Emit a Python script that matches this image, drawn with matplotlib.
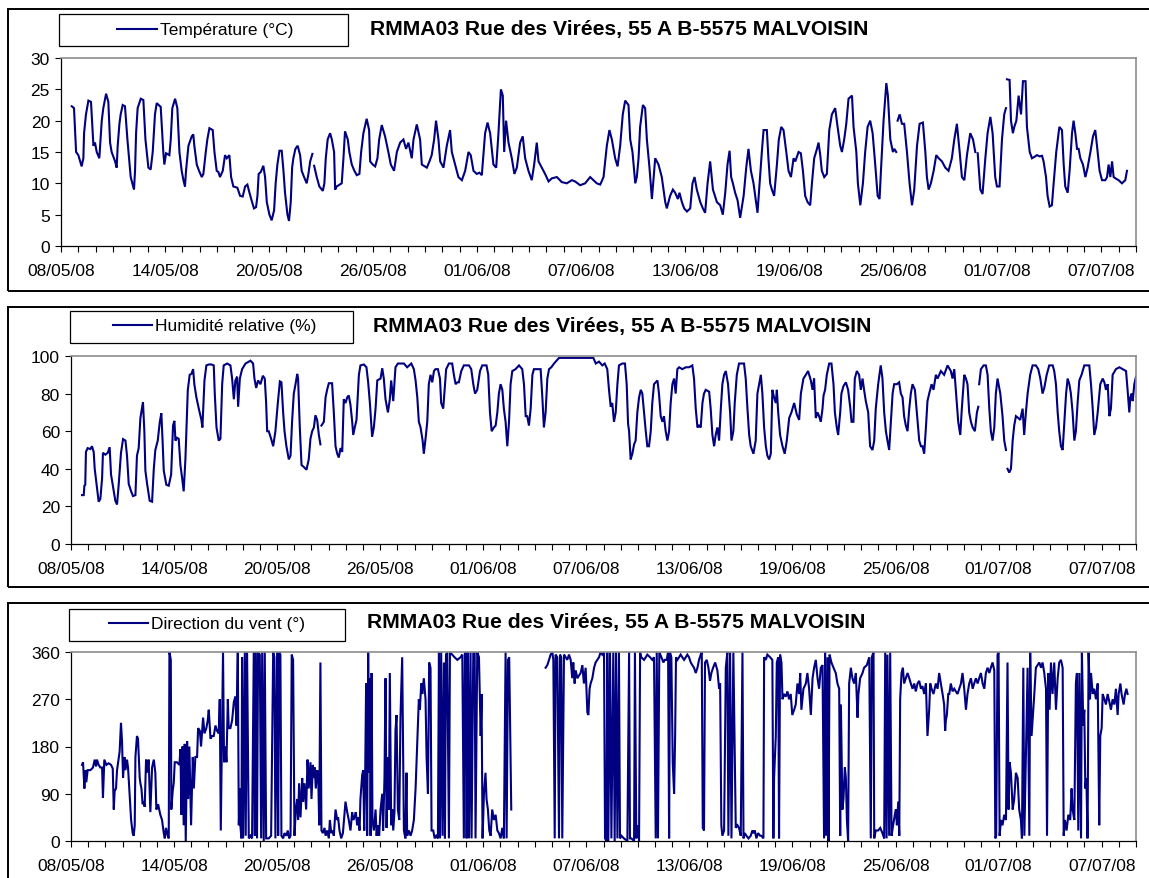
import numpy as np
import matplotlib
matplotlib.use("Agg")
import matplotlib.pyplot as plt
import matplotlib.dates as mdates
from matplotlib.patches import Rectangle
from matplotlib.lines import Line2D
from datetime import datetime

plt.rcParams['font.family'] = ['Liberation Sans', 'DejaVu Sans']

NAN = np.nan

# ---------------------------------------------------------------- data
# time stamps are days elapsed since 08/05/2008 00:00
station_title = "RMMA03 Rue des Virées, 55 A B-5575 MALVOISIN"
start_date = datetime(2008, 5, 8)
end_date = datetime(2008, 7, 9)

temp_label = "Température (°C)"
temp_day = [
    0.62, 0.75, 0.87, 1.00, 1.19, 1.29, 1.33, 1.44, 1.58, 1.73, 1.87, 1.96, 2.06, 2.21, 2.35, 2.44,
    2.60, 2.73, 2.83, 2.92, 3.12, 3.21, 3.27, 3.37, 3.44, 3.56, 3.69, 3.83, 4.02, 4.21, 4.27, 4.33,
    4.42, 4.60, 4.75, 4.87, 5.04, 5.17, 5.29, 5.42, 5.52, 5.75, 5.90, 5.96, 6.06, 6.25, 6.33, 6.42,
    6.58, 6.71, 6.83, 6.96, 7.06, 7.15, 7.21, 7.35, 7.54, 7.63, 7.69, 7.83, 7.96, 8.12, 8.21, 8.35,
    8.44, 8.56, 8.75, 8.85, 8.98, 9.08, 9.17, 9.33, 9.46, 9.56, 9.71, 9.81, 9.94, 10.17, 10.33, 10.48,
    10.62, 10.75, 10.87, 11.00, 11.13, 11.25, 11.33, 11.40, 11.52, 11.67, 11.77, 11.87, 12.02, 12.15,
    12.29, 12.38, 12.48, 12.60, 12.73, 12.83, 12.92, 13.06, 13.15, 13.25, 13.33, 13.40, 13.52, 13.65,
    13.79, 13.88, 14.02, 14.17, 14.27, 14.37, 14.50, 14.55, 14.60, 14.75, 14.90, 15.10, 15.19, 15.27,
    15.38, 15.52, 15.62, 15.75, 15.81, 15.90, 16.19, 16.29, 16.38, 16.54, 16.63, 16.77, 16.92, 17.06,
    17.21, 17.31, 17.44, 17.63, 17.77, 17.83, 17.98, 18.12, 18.25, 18.35, 18.50, 18.69, 18.88, 19.02,
    19.21, 19.37, 19.56, 19.75, 19.90, 20.04, 20.23, 20.33, 20.52, 20.71, 20.81, 21.10, 21.25, 21.38,
    21.52, 21.63, 21.77, 21.87, 22.06, 22.25, 22.44, 22.54, 22.73, 22.92, 23.12, 23.31, 23.50, 23.63,
    23.79, 23.98, 24.13, 24.27, 24.46, 24.60, 24.75, 24.94, 25.10, 25.23, 25.37, 25.48, 25.56, 25.67,
    25.81, 26.00, 26.15, 26.29, 26.48, 26.63, 26.77, 26.96, 27.15, 27.29, 27.44, 27.54, 27.73, 27.92,
    28.12, 28.31, 28.60, 28.88, 29.17, 29.46, 29.65, 29.94, 30.23, 30.52, 30.71, 30.90, 31.10, 31.29,
    31.48, 31.63, 31.77, 31.96, 32.10, 32.25, 32.40, 32.54, 32.73, 32.83, 32.96, 33.12, 33.21, 33.31,
    33.40, 33.56, 33.69, 33.79, 33.94, 34.08, 34.27, 34.46, 34.65, 34.85, 34.94, 35.13, 35.29, 35.42,
    35.58, 35.67, 35.81, 35.94, 36.10, 36.29, 36.42, 36.54, 36.67, 36.87, 37.02, 37.15, 37.29, 37.44,
    37.60, 37.83, 38.02, 38.17, 38.31, 38.44, 38.56, 38.65, 38.75, 38.88, 39.02, 39.17, 39.37, 39.52,
    39.65, 39.79, 39.94, 40.04, 40.17, 40.29, 40.42, 40.52, 40.71, 40.80, 40.90, 41.00, 41.13, 41.29,
    41.40, 41.54, 41.67, 41.83, 41.96, 42.10, 42.25, 42.35, 42.54, 42.67, 42.79, 42.92, 43.06, 43.21,
    43.31, 43.44, 43.60, 43.69, 43.79, 43.88, 44.02, 44.17, 44.31, 44.46, 44.65, 44.79, 44.94, 45.04,
    45.17, 45.29, 45.42, 45.62, 45.71, 45.87, 45.96, 46.10, 46.25, 46.38, 46.52, 46.67, 46.81, 46.96,
    47.10, 47.21, 47.29, 47.44, 47.60, 47.69, 47.83, 47.98, 48.06, 48.17, 48.21, 48.25, 48.37, 48.50,
    48.63, 48.79, 48.94, 49.08, 49.21, 49.37, 49.52, 49.71, 49.85, 49.94, 50.04, 50.17, 50.33, 50.48,
    50.62, 50.81, 51.00, 51.19, 51.38, 51.52, 51.67, 51.83, 51.96, 52.10, 52.25, 52.44, 52.60, 52.73,
    52.80, 52.87, 53.02, 53.15, 53.31, 53.44, 53.60, 53.73, 53.88, 53.98, 54.13, 54.27, 54.40, 54.50,
    54.53, 54.56, 54.71, 54.79, 54.90, 54.98, 55.10, 55.23, 55.37, 55.48, 55.63, 55.71, 55.87, 56.00,
    56.13, 56.29, 56.44, 56.58, 56.67, 56.81, 56.90, 57.02, 57.15, 57.25, 57.40, 57.58, 57.73, 57.83,
    57.92, 58.06, 58.17, 58.31, 58.40, 58.50, 58.60, 58.69, 58.79, 58.94, 59.08, 59.21, 59.37, 59.52,
    59.65, 59.75, 59.90, 60.04, 60.23, 60.33, 60.42, 60.52, 60.62, 60.71, 60.87, 61.00, 61.19, 61.38,
    61.48,
]
temp_val = [
    22.3, 22.0, 15.0, 14.5, 12.7, 14.0, 18.0, 21.0, 23.2, 23.0, 16.0, 16.5, 15.0, 14.0, 20.0, 22.0,
    24.3, 23.0, 16.5, 15.0, 13.5, 12.5, 16.0, 19.5, 21.0, 22.5, 22.3, 17.0, 11.0, 9.0, 12.0, 18.0,
    22.0, 23.5, 23.3, 17.0, 12.5, 12.2, 15.0, 21.0, 22.8, 22.2, 15.0, 13.0, 14.8, 14.5, 17.0, 22.0,
    23.5, 22.0, 15.0, 12.0, 10.5, 9.5, 12.0, 16.0, 17.5, 17.8, 16.0, 13.0, 12.0, 11.0, 11.5, 15.0,
    17.0, 18.8, 18.5, 15.0, 12.0, 11.8, 11.0, 12.0, 14.5, 14.0, 14.5, 11.0, 9.5, 9.3, 8.0, 7.9,
    9.5, 9.8, 8.5, 7.2, 6.0, 6.2, 8.0, 11.5, 11.8, 12.8, 11.0, 7.0, 5.0, 4.1,
    5.7, 10.0, 13.0, 15.2, 15.2, 12.0, 8.5, 5.0, 4.0, 7.0, 12.5, 14.0, 15.5, 16.0,
    14.5, 12.0, 11.0, 10.0, 11.5, 13.5, 14.7, NAN, 12.8, 11.0, 9.5, 8.8, 10.0, 14.0,
    17.0, 18.0, 17.0, 15.0, 9.0, 9.5, 10.0, 14.0, 18.3, 17.0, 15.0, 13.0, 12.0, 11.3,
    11.5, 15.0, 18.0, 20.3, 18.5, 13.5, 13.0, 12.7, 14.0, 17.0, 19.3, 17.5, 15.0, 13.0,
    12.0, 15.0, 16.5, 17.0, 15.5, 16.5, 14.0, 17.0, 19.4, 17.0, 13.0, 12.5, 13.5, 14.5,
    17.0, 20.0, 17.0, 13.5, 12.5, 16.0, 18.5, 15.0, 13.0, 11.0, 10.5, 12.0, 15.0, 14.5,
    12.0, 11.5, 11.7, 11.3, 18.0, 19.7, 18.0, 13.0, 12.5, 18.0, 25.0, 24.0, 15.0, 20.0,
    16.5, 14.0, 11.5, 12.5, 16.5, 17.5, 14.0, 12.0, 10.5, 13.0, 16.5, 13.5, 12.5, 11.5,
    10.3, 10.8, 11.0, 10.2, 10.0, 10.5, 10.3, 9.7, 10.0, 11.0, 10.5, 10.0, 9.8, 11.0,
    16.0, 18.5, 17.0, 14.0, 12.7, 16.0, 21.0, 23.2, 22.5, 17.0, 15.0, 10.0, 11.0, 14.0,
    19.0, 22.5, 22.0, 17.0, 12.5, 7.5, 14.0, 13.0, 11.0, 7.0, 6.0, 8.0, 9.0, 8.5,
    7.5, 8.5, 7.0, 6.0, 5.5, 6.0, 10.0, 11.0, 9.0, 7.0, 6.0, 5.3, 10.0, 13.5,
    9.0, 7.0, 6.5, 5.0, 8.5, 13.0, 15.2, 11.0, 10.0, 8.5, 7.3, 4.5, 8.0, 12.5,
    15.5, 12.0, 10.0, 8.0, 5.3, 10.0, 15.0, 18.5, 18.5, 14.0, 10.0, 9.0, 8.0, 13.0,
    17.0, 19.0, 18.5, 15.0, 12.0, 11.0, 14.0, 13.5, 15.0, 14.8, 12.0, 8.0, 7.0, 6.5,
    10.0, 14.0, 15.5, 16.5, 14.5, 12.0, 11.0, 11.5, 18.5, 21.0, 22.0, 19.0, 16.0, 15.0,
    17.0, 19.5, 23.5, 24.0, 19.0, 15.0, 10.0, 6.5, 10.0, 15.0, 19.0, 20.0, 18.0, 13.0,
    8.0, 7.5, 12.0, 20.0, 26.0, 24.0, 17.0, 15.0, 15.5, 15.0, NAN, 20.0, 21.0, 19.5,
    19.5, 15.0, 10.0, 6.5, 9.0, 16.0, 19.5, 19.7, 15.0, 11.0, 9.0, 10.0, 12.0, 14.5,
    14.0, 13.5, 12.5, 12.0, 14.0, 17.0, 19.5, 15.0, 11.0, 10.5, 14.5, 18.0, 17.0, 15.0,
    NAN, 14.8, 9.0, 8.3, 14.0, 18.0, 20.6, 18.0, 11.0, 9.5, 9.5, 17.0, 21.0, 22.0,
    NAN, 26.6, 26.5, 20.0, 18.0, 19.0, 20.0, 24.0, 21.0, 26.3, 26.3, 19.0, 15.0, 14.0,
    14.2, 14.5, 14.3, 14.4, 13.5, 11.0, 8.0, 6.3, 6.5, 10.0, 15.0, 19.0, 18.5, 13.0,
    9.5, 8.5, 12.0, 18.0, 20.0, 18.0, 15.5, 15.5, 14.0, 13.0, 11.0, 12.5, 15.0, 17.5,
    18.5, 16.0, 12.0, 10.5, 10.5, 11.0, 13.0, 11.0, 13.5, 11.0, 10.7, 10.5, 10.0, 10.5,
    12.0,
]

hum_label = "Humidité relative (%)"
hum_day = [
    0.64, 0.74, 0.78, 0.83, 0.87, 0.97, 1.13, 1.22, 1.32, 1.38, 1.51, 1.61, 1.71, 1.81, 1.86, 2.00,
    2.14, 2.25, 2.33, 2.49, 2.58, 2.68, 2.78, 2.91, 3.03, 3.17, 3.26, 3.36, 3.50, 3.61, 3.75, 3.84,
    3.94, 4.04, 4.19, 4.27, 4.33, 4.43, 4.58, 4.72, 4.82, 4.91, 5.05, 5.17, 5.26, 5.34, 5.40, 5.55,
    5.69, 5.83, 5.94, 6.02, 6.08, 6.17, 6.27, 6.37, 6.47, 6.56, 6.66, 6.80, 6.91, 7.01, 7.11, 7.18,
    7.30, 7.44, 7.59, 7.65, 7.77, 7.88, 8.02, 8.17, 8.31, 8.37, 8.47, 8.60, 8.70, 8.80, 8.89, 9.09,
    9.28, 9.38, 9.48, 9.57, 9.67, 9.73, 9.83, 9.96, 10.16, 10.45, 10.60, 10.68, 10.78, 10.89, 11.03,
    11.17, 11.28, 11.36, 11.42, 11.51, 11.65, 11.77, 11.90, 12.04, 12.16, 12.25, 12.35, 12.43, 12.54,
    12.68, 12.78, 12.87, 12.97, 13.07, 13.17, 13.22, 13.32, 13.42, 13.55, 13.71, 13.84, 13.94, 14.04,
    14.14, 14.23, 14.33, 14.43, 14.52, 14.55, 14.58, 14.72, 14.82, 14.91, 15.01, 15.20, 15.30, 15.40,
    15.50, 15.59, 15.69, 15.79, 15.88, 15.98, 16.08, 16.17, 16.27, 16.37, 16.43, 16.52, 16.62, 16.76,
    16.85, 17.05, 17.20, 17.30, 17.40, 17.53, 17.63, 17.73, 17.83, 18.02, 18.12, 18.21, 18.31, 18.45,
    18.56, 18.64, 18.76, 18.89, 19.03, 19.38, 19.57, 19.81, 19.96, 20.06, 20.16, 20.25, 20.35, 20.47,
    20.54, 20.64, 20.74, 20.83, 20.93, 21.03, 21.13, 21.22, 21.36, 21.48, 21.55, 21.67, 21.75, 21.84,
    22.00, 22.19, 22.29, 22.39, 22.49, 22.58, 22.72, 22.87, 23.17, 23.30, 23.42, 23.52, 23.65, 23.81,
    23.94, 24.19, 24.29, 24.39, 24.49, 24.62, 24.72, 24.82, 24.91, 25.01, 25.11, 25.20, 25.30, 25.40,
    25.50, 25.59, 25.69, 25.88, 26.08, 26.27, 26.37, 26.47, 26.56, 26.66, 26.76, 26.86, 26.95, 27.15,
    27.34, 27.44, 27.53, 27.63, 27.73, 27.83, 27.96, 28.12, 28.41, 28.89, 29.48, 30.06, 30.41, 30.55,
    30.74, 30.93, 31.07, 31.22, 31.32, 31.42, 31.51, 31.61, 31.71, 31.81, 31.90, 32.10, 32.25, 32.35,
    32.43, 32.49, 32.58, 32.68, 32.78, 32.87, 32.97, 33.07, 33.17, 33.26, 33.36, 33.46, 33.55, 33.65,
    33.75, 33.84, 33.94, 34.14, 34.23, 34.33, 34.43, 34.52, 34.62, 34.72, 34.82, 34.91, 35.01, 35.11,
    35.20, 35.30, 35.40, 35.59, 35.79, 35.98, 36.17, 36.27, 36.37, 36.47, 36.56, 36.66, 36.76, 36.85,
    36.95, 37.15, 37.24, 37.34, 37.44, 37.53, 37.63, 37.73, 37.83, 37.92, 38.02, 38.12, 38.25, 38.37,
    38.45, 38.56, 38.64, 38.76, 38.89, 39.09, 39.18, 39.28, 39.38, 39.48, 39.57, 39.73, 39.86, 39.96,
    40.16, 40.25, 40.35, 40.45, 40.54, 40.64, 40.74, 40.83, 40.93, 41.03, 41.09, 41.17, 41.28, 41.42,
    41.55, 41.67, 41.81, 41.94, 42.10, 42.25, 42.39, 42.49, 42.64, 42.78, 42.91, 43.07, 43.17, 43.26,
    43.36, 43.46, 43.55, 43.65, 43.75, 43.81, 43.90, 44.00, 44.14, 44.27, 44.39, 44.47, 44.58, 44.66,
    44.78, 44.85, 44.97, 45.11, 45.24, 45.36, 45.44, 45.55, 45.63, 45.75, 45.88, 45.98, 46.08, 46.17,
    46.27, 46.41, 46.52, 46.66, 46.76, 46.85, 46.99, 47.14, 47.24, 47.34, 47.44, 47.53, 47.63, 47.73,
    47.83, 47.92, 48.08, 48.21, 48.31, 48.41, 48.50, 48.60, 48.70, 48.80, 48.89, 48.99, 49.13, 49.24,
    49.38, 49.48, 49.57, 49.67, 49.77, 49.86, 49.96, 50.10, 50.21, 50.35, 50.45, 50.64, 50.83, 51.03,
    51.22, 51.32, 51.42, 51.57, 51.65, 51.77, 51.86, 52.00, 52.10, 52.19, 52.29, 52.39, 52.49, 52.62,
    52.74, 52.82, 52.85, 52.87, 52.97, 53.13, 53.26, 53.36, 53.46, 53.55, 53.65, 53.75, 53.84, 53.94,
    54.10, 54.23, 54.33, 54.43, 54.48, 54.52, 54.62, 54.72, 54.82, 54.91, 55.01, 55.15, 55.26, 55.40,
    55.49, 55.59, 55.69, 55.84, 55.98, 56.17, 56.31, 56.43, 56.56, 56.66, 56.80, 56.95, 57.15, 57.24,
    57.34, 57.44, 57.53, 57.63, 57.73, 57.83, 57.93, 58.02, 58.12, 58.21, 58.31, 58.41, 58.50, 58.60,
    58.70, 58.83, 58.99, 59.28, 59.38, 59.48, 59.57, 59.67, 59.77, 59.92, 60.06, 60.16, 60.25, 60.35,
    60.45, 60.54, 60.64, 60.83, 61.03, 61.22, 61.42, 61.51, 61.61, 61.67, 61.75, 61.81, 61.90, 62.00,
]
hum_val = [
    26, 26, 31, 31.5, 49, 51, 50.5, 52, 49, 40, 30, 22.5, 24, 35, 48.5, 47.5,
    48.5, 51.5, 37, 28, 23, 21, 32, 48.5, 55.8, 55, 47, 32, 28, 25.5, 26, 47,
    51, 67, 75.5, 60, 39, 32, 23, 22.5, 40, 50, 55, 65, 69.5, 53, 39, 31.5,
    31, 37, 63, 65.5, 55, 56.5, 56, 42, 35, 28, 45, 82, 90, 90.5, 93, 85,
    78, 72, 66, 62, 87, 95, 95.5, 95.5, 95, 80, 62, 55, 56, 85, 95, 96,
    95, 88, 77, 87, 89, 73, 88, 93, 96, 97.5, 96, 88, 83, 87, 85,
    89.5, 88, 75, 60, 60, 56, 52, 60, 75, 86.5, 86, 70, 60, 52,
    45, 47, 65, 80, 85, 90.5, 88, 62, 42, 41, 39.5, 45, 56, 60,
    62, 68.5, 66, 58, 53, NAN, 63, 65, 78, 82, 85.5, 85.5, 70, 52,
    48, 46, 51, 49, 77, 75, 78, 79, 74, 65, 58, 62, 66, 90,
    95, 95.5, 94, 86, 75, 57, 62, 72, 87, 88, 93.5, 88, 77, 70,
    77, 87, 76, 94, 96, 96, 94, 96, 93, 87, 78, 65, 62, 55,
    48, 56, 65, 85, 90, 86, 92, 93, 93, 88, 75, 72, 82, 93,
    96, 96, 90, 85, 86, 86, 92, 95, 95, 93, 85, 80, 82, 92,
    95, 95, 90, 70, 60, 62, 63, 70, 80, 85, 82, 72, 65, 52,
    65, 85, 92, 93, 95, 93, 85, 68, 68, 63, 72, 90, 93, 93,
    93, 78, 62, 70, 88, 93, 94, 96, 99, 99, 99, 99, 99, 96,
    97, 95, 96, 93, 82, 73, 75, 65, 70, 85, 95, 96, 96, 85,
    64, 60, 45, 48, 53, 55, 70, 78, 82, 80, 70, 60, 52, 52,
    60, 75, 85, 87, 80, 68, 65, 68, 60, 55, 60, 75, 85, 88,
    80, 93, 94, 93, 94, 94, 95, 88, 72, 62, 63, 62, 75, 80,
    82, 81, 72, 58, 52, 58, 62, 55, 72, 85, 90, 92, 85, 70,
    55, 60, 75, 90, 96, 96, 96, 88, 72, 58, 52, 48, 55, 80,
    90, 80, 62, 52, 47, 45, 48, 82, 78, 75, 82, 70, 58, 52,
    48, 55, 67, 70, 75, 69, 66, 80, 88, 90, 92, 87, 82, 88,
    67, 70, 68, 65, 72, 79, 82, 90, 96, 96, 85, 70, 62, 58,
    70, 80, 84, 86, 82, 73, 65, 65, 88, 92, 90, 82, 88, 82,
    76, 70, 52, 50, 55, 72, 85, 95, 88, 70, 60, 55, 50, 65,
    80, 85, 85, 86, 80, 78, 68, 63, 60, 72, 80, 85, 82, 70,
    55, 52, 52, 48, 62, 76, 80, 85, 82, 90, 88, 92, 90, 95,
    92, 88, 93, 75, 65, 58, 72, 90, 88, 85, 70, 65, 62, 60,
    70, 73, NAN, 85, 93, 95, 95, 90, 72, 60, 55, 62, 80, 88,
    80, 68, 55, 50, NAN, 40, 38, 40, 55, 63, 68, 67, 66, 72,
    58, 70, 80, 90, 95, 95, 93, 88, 80, 83, 90, 95, 95, 92,
    85, 70, 60, 52, 50, 65, 80, 88, 85, 80, 70, 55, 60, 75,
    87, 90, 95, 95, 85, 72, 58, 62, 70, 85, 88, 86, 82, 85,
    68, 72, 90, 93, 94, 93, 92, 82, 70, 78, 80, 76, 85, 89,
]

wind_label = "Direction du vent (°)"
wind_day = [
    0.64, 0.70, 0.78, 0.83, 0.89, 0.97, 1.13, 1.28, 1.38, 1.46, 1.51, 1.61, 1.71, 1.81, 1.86, 1.94,
    2.06, 2.19, 2.33, 2.43, 2.49, 2.54, 2.62, 2.68, 2.83, 2.91, 2.97, 3.03, 3.11, 3.17, 3.26, 3.32,
    3.40, 3.50, 3.59, 3.65, 3.71, 3.75, 3.84, 3.90, 4.00, 4.04, 4.10, 4.17, 4.23, 4.29, 4.37, 4.43,
    4.52, 4.62, 4.72, 4.82, 4.91, 4.97, 5.07, 5.20, 5.30, 5.40, 5.46, 5.53, 5.63, 5.69, 5.73, 5.81,
    5.84, 5.92, 5.98, 6.04, 6.17, 6.31, 6.37, 6.43, 6.49, 6.56, 6.62, 6.68, 6.76, 6.82, 6.89, 6.99,
    7.09, 7.15, 7.24, 7.34, 7.40, 7.50, 7.57, 7.69, 7.77, 7.88, 7.96, 8.02, 8.12, 8.21, 8.31, 8.41,
    8.50, 8.60, 8.66, 8.72, 8.78, 8.85, 8.91, 8.99, 9.05, 9.13, 9.18, 9.28, 9.38, 9.48, 9.57, 9.63,
    9.71, 9.77, 9.83, 9.86, 9.92, 9.96, 10.02, 10.12, 10.17, 10.25, 10.35, 10.45, 10.54, 10.64, 10.70,
    10.76, 10.83, 10.89, 10.99, 11.07, 11.13, 11.22, 11.28, 11.36, 11.51, 11.65, 11.77, 11.84, 11.90,
    12.00, 12.06, 12.12, 12.19, 12.25, 12.35, 12.43, 12.54, 12.62, 12.70, 12.78, 12.85, 12.93, 13.01,
    13.09, 13.17, 13.22, 13.28, 13.36, 13.46, 13.51, 13.59, 13.69, 13.77, 13.84, 13.94, 14.00, 14.08,
    14.14, 14.19, 14.25, 14.33, 14.39, 14.45, 14.52, 14.58, 14.66, 14.76, 14.82, 14.91, 15.01, 15.07,
    15.15, 15.24, 15.30, 15.40, 15.50, 15.55, 15.63, 15.73, 15.83, 15.88, 15.98, 16.08, 16.17, 16.27,
    16.37, 16.43, 16.50, 16.58, 16.66, 16.72, 16.80, 16.85, 16.95, 17.01, 17.07, 17.13, 17.18, 17.24,
    17.30, 17.36, 17.40, 17.44, 17.50, 17.55, 17.63, 17.73, 17.79, 17.86, 17.94, 18.02, 18.12, 18.17,
    18.25, 18.31, 18.37, 18.45, 18.51, 18.56, 18.64, 18.70, 18.76, 18.83, 18.89, 18.95, 19.03, 19.11,
    19.18, 19.28, 19.38, 19.47, 19.53, 19.57, 19.67, 19.77, 19.86, 19.96, 20.06, 20.16, 20.25, 20.31,
    20.39, 20.45, 20.54, 20.64, 20.70, 20.78, 20.85, 20.93, 20.99, 21.09, 21.17, 21.26, 21.36, 21.42,
    21.48, 21.55, 21.63, 21.71, 21.77, 21.83, 21.90, 22.00, 22.06, 22.19, 22.33, 22.49, 22.68, 22.78,
    22.87, 22.93, 22.99, 23.03, 23.11, 23.17, 23.26, 23.32, 23.42, 23.50, 23.55, 23.65, 23.75, 23.85,
    23.90, 23.96, 24.04, 24.13, 24.19, 24.27, 24.35, 24.43, 24.52, 24.62, 24.72, 24.82, 24.91, 25.01,
    25.11, 25.20, 25.30, 25.36, 25.44, 25.51, 25.63, 26.60, 27.63, 27.73, 27.83, 27.92, 28.02, 28.08,
    28.16, 28.21, 28.31, 28.41, 28.47, 28.54, 28.60, 28.70, 28.80, 28.89, 28.99, 29.09, 29.18, 29.24,
    29.32, 29.38, 29.48, 29.57, 29.67, 29.77, 29.86, 29.96, 30.06, 30.12, 30.19, 30.25, 30.35, 30.45,
    30.54, 30.64, 30.74, 30.83, 30.93, 31.03, 31.09, 31.17, 31.22, 31.28, 31.38, 31.46, 31.57, 31.65,
    31.73, 31.81, 31.90, 31.96, 32.04, 32.19, 32.39, 32.49, 32.54, 32.62, 32.78, 32.83, 32.91, 33.01,
    33.07, 33.13, 33.20, 33.36, 33.46, 33.55, 33.71, 33.84, 33.94, 34.04, 34.10, 34.17, 34.25, 34.37,
    34.49, 34.56, 34.68, 34.76, 34.82, 34.87, 34.95, 35.03, 35.11, 35.17, 35.22, 35.30, 35.40, 35.49,
    35.59, 35.69, 35.79, 35.88, 35.98, 36.08, 36.17, 36.27, 36.37, 36.47, 36.56, 36.66, 36.72, 36.78,
    36.85, 36.91, 37.01, 37.11, 37.20, 37.28, 37.38, 37.50, 37.63, 37.73, 37.79, 37.86, 37.92, 38.02,
    38.12, 38.21, 38.27, 38.37, 38.45, 38.56, 38.70, 38.80, 38.89, 38.99, 39.09, 39.15, 39.22, 39.32,
    39.44, 39.57, 39.67, 39.73, 39.81, 39.90, 40.00, 40.12, 40.19, 40.31, 40.35, 40.45, 40.54, 40.70,
    40.83, 40.89, 40.93, 41.03, 41.09, 41.17, 41.22, 41.28, 41.36, 41.42, 41.51, 41.61, 41.71, 41.80,
    41.90, 41.99, 42.10, 42.19, 42.29, 42.39, 42.45, 42.52, 42.64, 42.78, 42.87, 42.97, 43.07, 43.17,
    43.26, 43.36, 43.46, 43.55, 43.65, 43.75, 43.84, 43.90, 43.96, 44.04, 44.10, 44.16, 44.27, 44.39,
    44.52, 44.62, 44.72, 44.78, 44.82, 44.91, 44.97, 45.05, 45.11, 45.17, 45.24, 45.30, 45.40, 45.49,
    45.59, 45.69, 45.79, 45.84, 45.94, 46.08, 46.17, 46.33, 46.47, 46.56, 46.62, 46.72, 46.76, 46.85,
    46.99, 47.11, 47.24, 47.34, 47.40, 47.48, 47.53, 47.63, 47.69, 47.77, 47.86, 47.96, 48.02, 48.08,
    48.16, 48.22, 48.27, 48.35, 48.43, 48.50, 48.60, 48.70, 48.80, 48.89, 48.99, 49.09, 49.18, 49.28,
    49.38, 49.48, 49.57, 49.67, 49.77, 49.86, 49.96, 50.02, 50.10, 50.21, 50.35, 50.45, 50.54, 50.64,
    50.74, 50.83, 50.89, 50.93, 50.99, 51.07, 51.13, 51.22, 51.32, 51.42, 51.51, 51.61, 51.71, 51.81,
    51.90, 52.00, 52.10, 52.19, 52.29, 52.39, 52.49, 52.58, 52.68, 52.78, 52.87, 52.97, 53.07, 53.17,
    53.26, 53.36, 53.46, 53.55, 53.65, 53.75, 53.81, 53.86, 53.94, 54.00, 54.06, 54.14, 54.23, 54.33,
    54.43, 54.52, 54.58, 54.64, 54.72, 54.82, 54.91, 55.01, 55.11, 55.20, 55.30, 55.36, 55.44, 55.50,
    55.59, 55.69, 55.79, 55.84, 55.92, 56.02, 56.08, 56.17, 56.27, 56.37, 56.47, 56.56, 56.66, 56.76,
    56.82, 56.89, 56.97, 57.05, 57.14, 57.24, 57.34, 57.44, 57.53, 57.63, 57.73, 57.79, 57.86, 57.96,
    58.06, 58.17, 58.25, 58.31, 58.41, 58.50, 58.56, 58.64, 58.70, 58.80, 58.85, 58.93, 58.99, 59.05,
    59.11, 59.18, 59.24, 59.32, 59.38, 59.48, 59.57, 59.67, 59.77, 59.86, 59.92, 60.00, 60.06, 60.16,
    60.25, 60.35, 60.45, 60.54, 60.64, 60.74, 60.83, 60.93, 60.99, 61.09, 61.16, 61.28, 61.36, 61.44,
    61.51,
]
wind_val = [
    145, 150, 100, 135, 112, 135, 135, 140, 155, 142, 155, 145, 140, 140, 82, 155,
    145, 148, 145, 138, 60, 95, 100, 135, 170, 225, 190, 120, 160, 135, 155, 140,
    95, 40, 15, 10, 30, 160, 200, 195, 120, 110, 100, 70, 75, 65, 155, 130,
    155, 55, 140, 155, 130, 60, 70, 50, 40, 15, 5, 25, 10, 5, 360, 345,
    60, 95, 110, 150, 150, 145, 175, 50, 180, 30, 185, 0, 190, 80, 180, 30,
    160, 100, 160, 160, 215, 210, 180, 235, 205, 215, 230, 250, 195, 200, 200, 220,
    210, 205, 270, 20, 180, 360, 150, 180, 150, 270, 215, 215, 230, 265, 275, 220,
    360, 30, 100, 30, 5, 350, 5, 360, 10, 360, 5, 10, 5, 360, 10,
    360, 5, 360, 355, 5, 360, 0, 360, 5, 5, 10, 360, 350, 5,
    360, 10, 360, 355, 10, 5, 15, 10, 20, 5, 10, 355, 345, 10,
    60, 80, 40, 110, 45, 120, 75, 110, 60, 155, 100, 150, 80, 145,
    120, 140, 100, 135, 125, 30, 340, 20, 15, 25, 10, 20, 5, 40,
    15, 20, 10, 60, 40, 45, 20, 5, 15, 35, 75, 55, 40, 20,
    55, 40, 45, 55, 30, 45, 20, 80, 125, 135, 20, 140, 300, 10,
    360, 130, 310, 10, 320, 40, 20, 60, 10, 30, 10, 60, 90, 20,
    120, 310, 25, 160, 60, 320, 30, 60, 20, 55, 210, 240, 60, 40,
    235, 350, 20, 5, 130, 10, 20, 10, 20, 40, 100, 190, 270, 250,
    300, 280, 310, 270, 160, 90, 340, 330, 20, 20, 5, 10, 5, 360,
    5, 360, 10, 340, 5, 355, 360, 5, 360, 355, 350, 345, 350, 355,
    5, 360, 360, 5, 360, 5, 360, 5, 360, 360, 5, 360, 350, 200,
    280, 5, 90, 130, 80, 60, 20, 10, 60, 40, 50, 20, 15, 5,
    25, 5, 360, 5, 345, 350, 60, NAN, 330, 335, 345, 355, 360, 345,
    5, 355, 350, 5, 355, 350, 5, 355, 350, 345, 355, 345, 310, 340,
    300, 325, 310, 315, 320, 335, 300, 330, 245, 240, 290, 300, 310, 330,
    340, 345, 350, 360, 355, 360, 5, 0, 360, 0, 360, 5, 360, 0,
    360, 5, 360, 5, 10, 5, 0, 360, 5, 5, 0, 360, 5, 30,
    0, 360, 350, 345, 350, 355, 350, 345, 350, 5, 360, 5, 360, 350,
    340, 345, 345, 360, 5, 360, 350, 150, 90, 200, 350, 345, 350, 355,
    350, 345, 350, 355, 350, 340, 335, 330, 320, 330, 345, 355, 360, 25,
    20, 340, 345, 330, 305, 320, 330, 340, 325, 290, 300, 30, 10, 20,
    330, 360, 10, 360, 5, 360, 25, 30, 25, 10, 360, 5, 15, 10,
    5, 10, 20, 15, 20, 5, 15, 10, 10, 5, 350, 345, 355, 350,
    345, 5, 120, 200, 340, 350, 5, 355, 340, 270, 280, 275, 285, 270,
    280, 240, 250, 260, 300, 280, 320, 250, 290, 300, 320, 290, 240, 310,
    330, 345, 310, 290, 330, 335, 5, 360, 10, 350, 0, 355, 340, 330,
    320, 300, 290, 10, 260, 60, 80, 140, 120, 40, 0, 300, 330, 310,
    300, 320, 235, 280, 310, 320, 330, 335, 350, 5, 350, 360, 5, 20,
    20, 25, 15, 5, 360, 5, 355, 10, 360, 10, 30, 50, 60, 30,
    75, 10, 270, 320, 330, 300, 310, 320, 310, 300, 290, 300, 285, 300,
    305, 290, 295, 280, 300, 200, 250, 300, 290, 280, 300, 290, 320, 300,
    280, 260, 210, 230, 240, 280, 280, 300, 285, 290, 285, 280, 290, 300,
    320, 290, 250, 280, 300, 310, 290, 300, 310, 300, 310, 320, 300, 290,
    320, 330, 320, 330, 340, 325, 5, 10, 355, 360, 10, 40, 30, 50,
    40, 340, 60, 150, 130, 60, 80, 130, 120, 60, 40, 5, 330, 10,
    160, 330, 10, 360, 200, 250, 280, 330, 335, 340, 330, 340, 320, 290,
    10, 320, 250, 340, 280, 340, 250, 310, 340, 345, 330, 10, 40, 20,
    50, 40, 100, 60, 40, 300, 320, 20, 320, 5, 360, 220, 250, 100,
    120, 5, 360, 270, 320, 280, 290, 270, 300, 30, 200, 215, 280, 270,
    260, 280, 265, 250, 270, 260, 290, 240, 280, 300, 280, 260, 280, 290,
    280,
]

panels = [
    (temp_label, temp_day, temp_val, [0, 5, 10, 15, 20, 25, 30]),
    (hum_label, hum_day, hum_val, [0, 20, 40, 60, 80, 100]),
    (wind_label, wind_day, wind_val, [0, 90, 180, 270, 360]),
]

# ---------------------------------------------------------------- layout
W, H = 1149, 879
fig = plt.figure(figsize=(W / 100, H / 100), dpi=100)
fig.patch.set_facecolor('white')

LINE_COLOR = '#000080'


def fbox(x0, y0, x1, y1):
    """pixel box (top-left origin) -> figure-fraction rect"""
    return [x0 / W, 1 - y1 / H, (x1 - x0) / W, (y1 - y0) / H]


# frame boxes, plot areas, legend boxes, title positions
frames = [(8, 10, 1155, 292), (8, 308, 1155, 588), (8, 604, 1155, 890)]
plot_areas = [(61, 59, 1136, 247), (71, 357, 1136, 545), (71, 653, 1136, 842)]
legend_boxes = [(59, 15, 348, 47), (70, 312, 353, 344), (69, 610, 345, 642)]
legend_lines = [(117, 157, 30), (113, 152, 326), (109, 148, 624)]
title_pos = [(370, 30), (373, 327), (367, 623)]

x_start = mdates.date2num(start_date)
x_end = mdates.date2num(end_date)

for i, (label, days, vals, yticks) in enumerate(panels):
    fr = frames[i]
    fig.add_artist(Rectangle((fr[0] / W, 1 - fr[3] / H), (fr[2] - fr[0]) / W,
                             (fr[3] - fr[1]) / H, transform=fig.transFigure,
                             fill=False, ec='black', lw=1.4, zorder=0))

    ax = fig.add_axes(fbox(*plot_areas[i]))
    t = x_start + np.asarray(days, dtype=float)
    ax.plot(t, np.asarray(vals, dtype=float), color=LINE_COLOR, lw=1.5,
            solid_joinstyle='miter')

    ax.set_xlim(x_start, x_end)
    ax.set_ylim(yticks[0], yticks[-1])
    ax.set_yticks(yticks)
    ax.xaxis.set_major_locator(matplotlib.ticker.FixedLocator(np.arange(x_start, x_end + 0.5, 6)))
    ax.xaxis.set_minor_locator(matplotlib.ticker.FixedLocator(np.arange(x_start, x_end + 0.5, 1)))
    ax.xaxis.set_major_formatter(mdates.DateFormatter('%d/%m/%y'))

    ax.tick_params(axis='x', which='both', direction='out', length=4, width=0.8,
                   color='black', labelsize=12.5, pad=8)
    ax.tick_params(axis='y', which='major', direction='out', length=4, width=0.8,
                   color='black', labelsize=12.5, pad=4)
    for side in ('top', 'right'):
        ax.spines[side].set_color('#8c8c8c')
        ax.spines[side].set_linewidth(1.2)
    for side in ('left', 'bottom'):
        ax.spines[side].set_color('black')
        ax.spines[side].set_linewidth(0.9)

    # legend box
    lb = legend_boxes[i]
    fig.add_artist(Rectangle((lb[0] / W, 1 - lb[3] / H), (lb[2] - lb[0]) / W,
                             (lb[3] - lb[1]) / H, transform=fig.transFigure,
                             fill=True, fc='white', ec='black', lw=0.9))
    ll = legend_lines[i]
    fig.add_artist(Line2D([ll[0] / W, ll[1] / W], [1 - ll[2] / H, 1 - ll[2] / H],
                          transform=fig.transFigure, color=LINE_COLOR, lw=1.5))
    fig.text((ll[1] + 3) / W, 1 - ll[2] / H, label, fontsize=12.5,
             ha='left', va='center')

    tp = title_pos[i]
    fig.text(tp[0] / W, 1 - tp[1] / H, station_title, fontsize=15.2,
             fontweight='bold', ha='left', va='center')

fig.savefig('out.png', dpi=100, facecolor='white')
